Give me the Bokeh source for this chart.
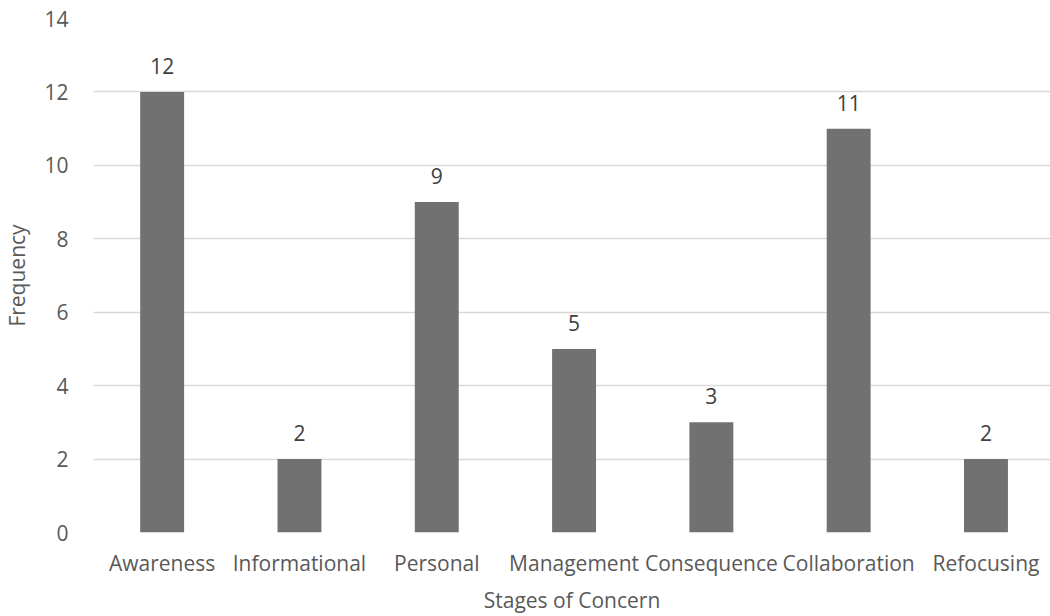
from bokeh.plotting import figure
from bokeh.models import ColumnDataSource, Range1d, FixedTicker, LabelSet
from bokeh.core.properties import value
from bokeh.embed import file_html
from bokeh.resources import INLINE

categories = ["Awareness", "Informational", "Personal", "Management",
              "Consequence", "Collaboration", "Refocusing"]
frequency = [12, 2, 9, 5, 3, 11, 2]
y_ticks = [0, 2, 4, 6, 8, 10, 12, 14]

xs = list(range(len(categories)))
src = ColumnDataSource(dict(x=xs, top=frequency, label=[str(v) for v in frequency]))

FONT = "Open Sans"
FS = "21px"
p = figure(width=1050, height=616, output_backend="svg",
           toolbar_location=None, x_range=Range1d(-0.5, 6.47),
           y_range=Range1d(0, 14), min_border_left=92, min_border_right=0,
           min_border_top=18, min_border_bottom=84)
p.outline_line_color = None
p.background_fill_color = "white"
p.border_fill_color = "white"

p.vbar(x="x", top="top", width=0.32, bottom=0, source=src,
       fill_color="#717171", line_color=None)

labels = LabelSet(x="x", y="top", text="label", source=src, y_offset=18,
                  text_align="center", text_baseline="alphabetic",
                  text_font=value(FONT), text_font_size=value(FS),
                  text_color="#404040")
p.add_layout(labels)

p.xaxis.ticker = FixedTicker(ticks=xs)
p.xaxis.major_label_overrides = {i: c for i, c in enumerate(categories)}
p.yaxis.ticker = FixedTicker(ticks=y_ticks)
p.xgrid.visible = False
p.ygrid.ticker = FixedTicker(ticks=y_ticks)
p.ygrid.grid_line_color = "#d9d9d9"
p.ygrid.grid_line_width = 1.5

for ax in (p.xaxis, p.yaxis):
    ax.axis_line_color = None
    ax.major_tick_line_color = None
    ax.minor_tick_line_color = None
    ax.major_tick_out = 0
    ax.major_tick_in = 0
    ax.minor_tick_out = 0
    ax.minor_tick_in = 0
    ax.major_label_text_font = FONT
    ax.major_label_text_font_size = FS
    ax.major_label_text_color = "#595959"
    ax.axis_label_text_font = FONT
    ax.axis_label_text_font_size = FS
    ax.axis_label_text_color = "#595959"
    ax.axis_label_text_font_style = "normal"

p.xaxis.axis_label = "Stages of Concern"
p.yaxis.axis_label = "Frequency"
p.yaxis.major_label_standoff = 25
p.xaxis.major_label_standoff = 16
p.xaxis.axis_label_standoff = 6
p.yaxis.axis_label_standoff = 10

open("out.html", "w").write(file_html(p, INLINE))
